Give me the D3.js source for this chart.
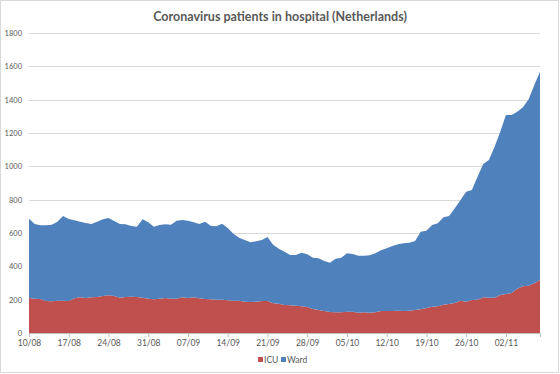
<!DOCTYPE html>
<html>
<head>
<meta charset="utf-8">
<script src="https://cdn.jsdelivr.net/npm/d3@7"></script>
<style>
  body { margin: 0; background: #fff; }
  text { font-family: "Lato", "Open Sans", sans-serif; fill: #595959; }
</style>
</head>
<body>
<div id="chart"></div>
<script>
// data, one value per day from 10/08 to 08/11
var startDate = "2020-08-10";
var icu = [210, 206, 204, 192, 190, 194, 194, 192, 208, 214,
  210, 214, 216, 222, 226, 222, 212, 216, 218, 216,
  212, 206, 202, 206, 210, 206, 206, 214, 210, 214,
  208, 204, 202, 200, 200, 196, 194, 194, 188, 186,
  188, 192, 192, 178, 176, 168, 166, 164, 160, 156,
  144, 138, 132, 126, 124, 124, 128, 128, 122, 124,
  122, 124, 132, 132, 132, 134, 132, 134, 138, 142,
  150, 158, 160, 170, 174, 180, 194, 188, 198, 200,
  214, 212, 212, 228, 234, 240, 266, 280, 284, 298, 318];
var ward = [475, 448, 442, 454, 460, 474, 508, 492, 468, 454,
  450, 440, 452, 460, 464, 450, 442, 436, 424, 422,
  470, 458, 436, 442, 442, 444, 468, 464, 464, 450,
  446, 464, 442, 440, 456, 434, 402, 378, 370, 358,
  362, 366, 384, 352, 330, 320, 302, 304, 322, 316,
  308, 310, 300, 296, 322, 328, 350, 346, 342, 340,
  344, 354, 364, 376, 390, 398, 406, 408, 414, 466,
  464, 490, 498, 524, 528, 568, 604, 660, 660, 738,
  800, 826, 906, 980, 1074, 1068, 1062, 1074, 1118, 1190, 1250];
var yTicks = [0, 200, 400, 600, 800, 1000, 1200, 1400, 1600, 1800];
var seriesNames = ["ICU", "Ward"];
var seriesColors = ["#c0504d", "#4f81bd"];

var svgWidth = 560;
var svgHeight = 374;
var margin = { top: 33, right: 20, bottom: 41, left: 29 };
var chartWidth = svgWidth - margin.left - margin.right;
var chartHeight = svgHeight - margin.top - margin.bottom;

var svg = d3.select("#chart").append("svg")
  .attr("width", svgWidth)
  .attr("height", svgHeight);

// chart border
svg.append("rect")
  .attr("x", 0.5).attr("y", 0.5)
  .attr("width", 558).attr("height", 372)
  .attr("fill", "#fff")
  .attr("stroke", "#d9d9d9");

svg.append("text")
  .attr("x", 280).attr("y", 21)
  .attr("text-anchor", "middle")
  .style("font-size", "12.5px")
  .style("font-weight", "bold")
  .text("Coronavirus patients in hospital (Netherlands)");

var chartGroup = svg.append("g")
  .attr("transform", `translate(${margin.left}, ${margin.top})`);

var parse = d3.timeParse("%Y-%m-%d");
var t0 = parse(startDate);
var rows = icu.map(function(v, i) {
  return { date: d3.timeDay.offset(t0, i), ICU: v, Ward: ward[i] };
});

var xScale = d3.scaleTime()
  .domain([rows[0].date, rows[rows.length - 1].date])
  .range([0, chartWidth]);

var yScale = d3.scaleLinear()
  .domain([0, 1800])
  .range([chartHeight, 0]);

// gridlines
chartGroup.append("g")
  .selectAll("line")
  .data(yTicks)
  .enter()
  .append("line")
  .attr("x1", 0).attr("x2", chartWidth)
  .attr("y1", d => Math.round(yScale(d)) + 0.5)
  .attr("y2", d => Math.round(yScale(d)) + 0.5)
  .attr("stroke", "#d9d9d9");

var stack = d3.stack().keys(seriesNames);
var layers = stack(rows);

var area = d3.area()
  .x(d => xScale(d.data.date))
  .y0(d => yScale(d[0]))
  .y1(d => yScale(d[1]));

chartGroup.selectAll(".layer")
  .data(layers)
  .enter()
  .append("path")
  .attr("class", "layer")
  .attr("d", area)
  .attr("fill", (d, i) => seriesColors[i]);

// y axis labels
var yAxis = d3.axisLeft(yScale)
  .tickValues(yTicks)
  .tickFormat(d3.format("d"))
  .tickSize(0)
  .tickPadding(7);
var yG = chartGroup.append("g").call(yAxis);
yG.select(".domain").remove();
yG.selectAll("text").style("font-size", "7.5px").attr("fill", "#595959");

// x axis, weekly ticks
var xAxis = d3.axisBottom(xScale)
  .ticks(d3.timeMonday.every(1))
  .tickFormat(d3.timeFormat("%d/%m"))
  .tickSize(4)
  .tickPadding(3);
var xG = chartGroup.append("g")
  .attr("transform", `translate(0, ${chartHeight})`)
  .call(xAxis);
xG.select(".domain").attr("stroke", "#bfbfbf");
xG.selectAll(".tick line").attr("stroke", "#bfbfbf");
xG.selectAll("text").style("font-size", "8.5px").attr("fill", "#595959");

// legend
var legend = svg.append("g")
  .attr("transform", "translate(258, 357)");
var legendX = [0, 23];
seriesNames.forEach(function(name, i) {
  legend.append("rect")
    .attr("x", legendX[i]).attr("y", 0)
    .attr("width", 5).attr("height", 5)
    .attr("fill", seriesColors[i]);
  legend.append("text")
    .attr("x", legendX[i] + 6).attr("y", 6)
    .style("font-size", "8.5px")
    .text(name);
});
</script>
</body>
</html>
